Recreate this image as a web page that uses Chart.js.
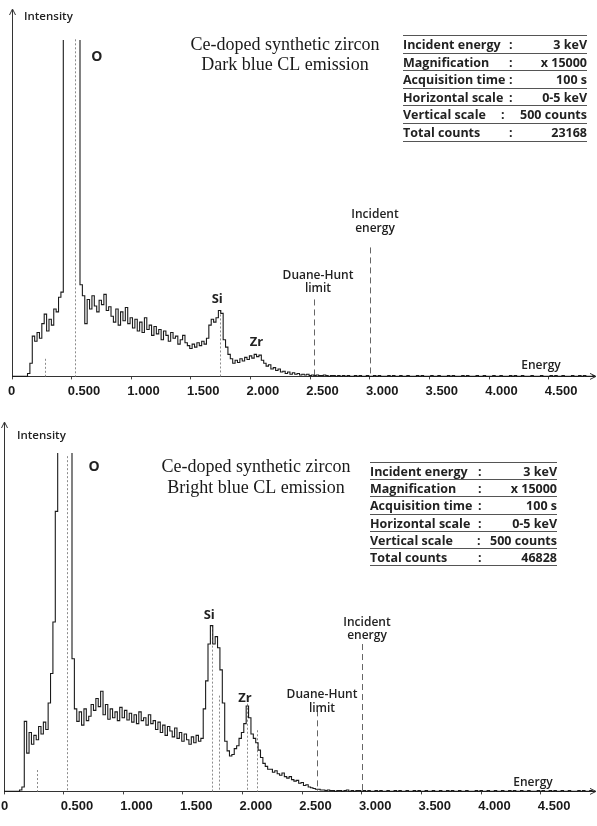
<!DOCTYPE html>
<html><head><meta charset="utf-8">
<script src="https://cdn.jsdelivr.net/npm/chart.js@4/dist/chart.umd.min.js"></script>
<style>
html,body{margin:0;padding:0;background:#fff;}
#wrap{position:relative;width:597px;height:826px;overflow:hidden;background:#fff;}
canvas{position:absolute;left:0;}
#c1{top:0;}
#c2{top:413px;}
</style></head><body>
<div id="wrap"><canvas id="c1" width="597" height="413"></canvas><canvas id="c2" width="597" height="413"></canvas></div>
<script>
// ---- data ----
const energyStep = 0.02; // keV per channel
const tickValues = [0, 0.5, 1, 1.5, 2, 2.5, 3, 3.5, 4, 4.5];
const tickLabels = ['0','0.500','1.000','1.500','2.000','2.500','3.000','3.500','4.000','4.500'];

// Dark blue CL emission spectrum (counts per channel, clipped display at 500)
const darkCounts = [
0,0,0,0,0,0,0,4,18,55,
48,60,52,72,85,62,78,70,92,88,
108,115,900,2400,3600,4200,4000,3000,1500,125,
110,72,105,92,110,96,88,104,98,112,
90,95,82,74,92,70,88,76,94,72,
80,66,78,62,74,60,80,64,70,56,
68,58,64,50,62,56,48,60,52,55,
44,50,56,46,42,38,44,40,46,42,
48,44,52,70,78,74,80,90,86,50,
40,30,24,18,22,19,24,21,26,23,
28,25,30,27,29,22,18,14,16,10,
12,8,10,6,7,4,6,3,5,3,
4,2,3,2,3,1,2,1,2,1,
1,2,1,0,1,1,0,1,0,1,
0,1,0,0,1,0,1,0,0,1,
0,0,1,0,1,0,0,0,1,0,
1,0,0,1,0,0,1,0,0,0,
1,0,1,0,0,0,1,0,0,1,
0,0,0,1,0,1,0,0,0,1,
0,1,0,0,0,1,0,0,1,0,
0,0,1,0,0,1,0,0,0,1,
0,1,0,0,1,0,0,0,1,0,
0,0,1,0,0,0,1,0,1,0,
0,1,0,0,0,1,0,0,1,0,
1,0,0,0,1,0,0,1,0,0
];

// Bright blue CL emission spectrum
const brightCounts = [
0,0,0,0,0,0,0,2,6,95,
52,80,64,76,70,88,78,94,84,120,
160,230,380,1800,3200,4000,4200,3600,1600,180,
112,95,108,90,112,96,102,118,110,126,
115,136,104,118,98,112,100,108,96,114,
100,110,97,106,94,104,92,108,96,100,
90,104,92,96,84,94,80,90,76,88,
82,74,86,72,80,68,78,70,64,74,
66,76,68,72,112,150,200,225,200,210,
195,165,120,68,55,48,50,58,62,72,
80,92,116,100,78,72,66,56,46,38,
34,30,30,26,28,24,22,25,20,18,
20,16,14,15,11,12,8,9,6,5,
4,3,3,2,2,1,2,1,1,0,
1,1,0,1,2,0,1,0,1,1,
0,1,0,1,0,0,1,0,1,0,
0,1,0,0,1,0,1,0,0,1,
0,0,1,0,1,0,0,1,0,0,
1,0,0,1,0,0,1,0,1,0,
0,1,0,0,1,0,0,0,1,0,
1,0,0,1,0,0,1,0,0,1,
0,0,1,0,1,0,0,1,0,0,
1,0,0,0,1,0,1,0,0,1,
0,1,0,0,1,0,0,1,0,0,
0,1,0,1,0,0,1,0,0,1
];

const tableLabels = ['Incident energy','Magnification','Acquisition time','Horizontal scale','Vertical scale','Total counts'];
const darkTableValues = ['3 keV','x 15000','100 s','0-5 keV','500 counts','23168'];
const brightTableValues = ['3 keV','x 15000','100 s','0-5 keV','500 counts','46828'];

const peakNames = ['O','Si','Zr'];
const darkMarkerEnergies = [0.277, 0.525, 1.74];
const darkMarkerTops = [24, 460, 90];
const brightMarkerEnergies = [0.277, 0.525, 1.74, 1.80, 2.04, 2.12];
const brightMarkerTops = [29, 455, 225, 130, 119, 83];
const incidentEnergy = 3.0;
const darkDuaneHunt = 2.53;
const brightDuaneHunt = 2.62;

// ---- layout ----
const panels = [
  {
    id:'c1', counts: darkCounts, xMax: 4.887, labelShift:-4,
    pad:{left:12,right:2,top:10,bottom:10},
    title:['Ce-doped synthetic zircon','Dark blue CL emission'], titleX:285, titleY:[45,65],
    table:{left:403,right:587,top:35,rowH:17.6,colonX:[509,509,509,509,501,509],values:darkTableValues},
    intensity:{x:24,y:17},
    peakLabelE:[0.71,1.72,2.05], peakLabelY:[57,299,342],
    markerE: darkMarkerEnergies, markerTop: darkMarkerTops,
    dh: darkDuaneHunt, dhTop:105, dhLabel:{x:318,y:[276,289]},
    incTop:176, incLabel:{x:375,y:[215,229]},
    energyLabel:{x:541,y:366}
  },
  {
    id:'c2', counts: brightCounts, xMax: 4.954, labelShift:-3,
    pad:{left:4,right:2,top:10,bottom:8},
    title:['Ce-doped synthetic zircon','Bright blue CL emission'], titleX:256, titleY:[54,75],
    table:{left:370,right:557,top:49,rowH:17.2,colonX:[478,478,478,478,477,478],values:brightTableValues},
    intensity:{x:17,y:23},
    peakLabelE:[0.755,1.72,2.02], peakLabelY:[54,202,285],
    markerE: brightMarkerEnergies, markerTop: brightMarkerTops,
    dh: brightDuaneHunt, dhTop:110, dhLabel:{x:322,y:[282,296]},
    incTop:200, incLabel:{x:367,y:[210,223]},
    energyLabel:{x:533,y:370}
  }
];

const SANS = '"Open Sans", "Liberation Sans", Arial, sans-serif';
const SERIF = '"Liberation Serif", "Times New Roman", serif';

function makeDecor(p){
  return {
    id:'decor_'+p.id,
    beforeDatasetsDraw(chart){
      const {ctx, scales:{x,y}} = chart;
      const base = y.getPixelForValue(0);
      ctx.save();
      ctx.lineWidth = 1;
      ctx.strokeStyle = '#8c8c8c';
      ctx.setLineDash([2,2]);
      p.markerE.forEach((e,i)=>{
        const px = Math.round(x.getPixelForValue(e))+0.5;
        ctx.beginPath();
        ctx.moveTo(px, y.getPixelForValue(p.markerTop[i]));
        ctx.lineTo(px, base);
        ctx.stroke();
      });
      ctx.strokeStyle = '#666';
      ctx.setLineDash([6,4]);
      [[p.dh,p.dhTop],[incidentEnergy,p.incTop]].forEach(([e,t])=>{
        const px = Math.round(x.getPixelForValue(e))+0.5;
        ctx.beginPath();
        ctx.moveTo(px, y.getPixelForValue(t));
        ctx.lineTo(px, base);
        ctx.stroke();
      });
      ctx.restore();
    },
    afterDraw(chart){
      const {ctx, scales:{x,y}, chartArea:ca} = chart;
      ctx.save();
      ctx.fillStyle = '#222';
      ctx.strokeStyle = '#333';
      // axis arrows
      ctx.lineWidth = 1;
      ctx.beginPath();
      ctx.moveTo(ca.left-2.5, ca.top+5); ctx.lineTo(ca.left+0.5, ca.top-1); ctx.lineTo(ca.left+3.5, ca.top+5);
      ctx.stroke();
      ctx.beginPath();
      ctx.moveTo(ca.right-5, ca.bottom-3); ctx.lineTo(ca.right+1, ca.bottom); ctx.lineTo(ca.right-5, ca.bottom+3);
      ctx.stroke();
      // Intensity label
      ctx.textBaseline = 'middle';
      ctx.textAlign = 'left';
      ctx.font = '600 11.5px ' + SANS;
      ctx.fillText('Intensity', p.intensity.x, p.intensity.y);
      // peak labels
      ctx.textAlign = 'center';
      peakNames.forEach((n,i)=>{
        ctx.font = (n==='O' ? 'bold 14px ' : 'bold 13px ') + SANS;
        ctx.fillText(n, x.getPixelForValue(p.peakLabelE[i]), p.peakLabelY[i]);
      });
      // Duane-Hunt / incident labels
      ctx.font = '600 12px ' + SANS;
      ctx.fillText('Duane-Hunt', p.dhLabel.x, p.dhLabel.y[0]);
      ctx.fillText('limit', p.dhLabel.x, p.dhLabel.y[1]);
      ctx.fillText('Incident', p.incLabel.x, p.incLabel.y[0]);
      ctx.fillText('energy', p.incLabel.x, p.incLabel.y[1]);
      ctx.fillText('Energy', p.energyLabel.x, p.energyLabel.y);
      // title
      ctx.font = '18px ' + SERIF;
      ctx.fillStyle = '#1a1a1a';
      ctx.fillText(p.title[0], p.titleX, p.titleY[0]);
      ctx.fillText(p.title[1], p.titleX, p.titleY[1]);
      // table
      const t = p.table;
      ctx.strokeStyle = '#555';
      ctx.lineWidth = 1;
      for (let k=0;k<=tableLabels.length;k++){
        const ly = Math.round(t.top + k*t.rowH)+0.5;
        ctx.beginPath(); ctx.moveTo(t.left, ly); ctx.lineTo(t.right, ly); ctx.stroke();
      }
      ctx.font = 'bold 12.5px ' + SANS;
      ctx.fillStyle = '#222';
      tableLabels.forEach((lab,k)=>{
        const cy = t.top + k*t.rowH + 10.5;
        ctx.textAlign = 'left';
        ctx.fillText(lab, t.left, cy);
        ctx.fillText(':', t.colonX[k], cy);
        ctx.textAlign = 'right';
        ctx.fillText(t.values[k], t.right, cy);
      });
      ctx.restore();
    }
  };
}

panels.forEach(p=>{
  const pts = p.counts.map((c,i)=>({x: i*energyStep, y: c}));
  new Chart(document.getElementById(p.id), {
    type:'line',
    data:{datasets:[{
      data: pts,
      borderColor:'#1a1a1a',
      borderWidth:1.1,
      pointRadius:0,
      stepped:'middle',
      fill:false,
      clip:{left:0,right:0,top:-30,bottom:2}
    }]},
    options:{
      responsive:false,
      animation:false,
      events:[],
      layout:{padding:p.pad},
      plugins:{legend:{display:false},tooltip:{enabled:false},title:{display:false}},
      scales:{
        x:{
          type:'linear', min:0, max:p.xMax,
          border:{display:true,color:'#333',width:1},
          grid:{display:true,drawOnChartArea:false,drawTicks:true,tickLength:3,color:'#444'},
          afterBuildTicks:(s)=>{ s.ticks = tickValues.map(v=>({value:v})); },
          ticks:{
            autoSkip:false, maxRotation:0, minRotation:0, align:'start', padding:4,
            labelOffset:p.labelShift,
            color:'#1a1a1a',
            font:{family:'"Liberation Sans Narrow", "Liberation Sans", Arial, sans-serif', size:13, weight:'bold'},
            callback:(v,i)=>tickLabels[i]
          }
        },
        y:{
          type:'linear', min:0, max:500,
          border:{display:true,color:'#333',width:1},
          grid:{display:false,drawTicks:false},
          ticks:{display:false}
        }
      }
    },
    plugins:[makeDecor(p)]
  });
});
</script></body></html>
